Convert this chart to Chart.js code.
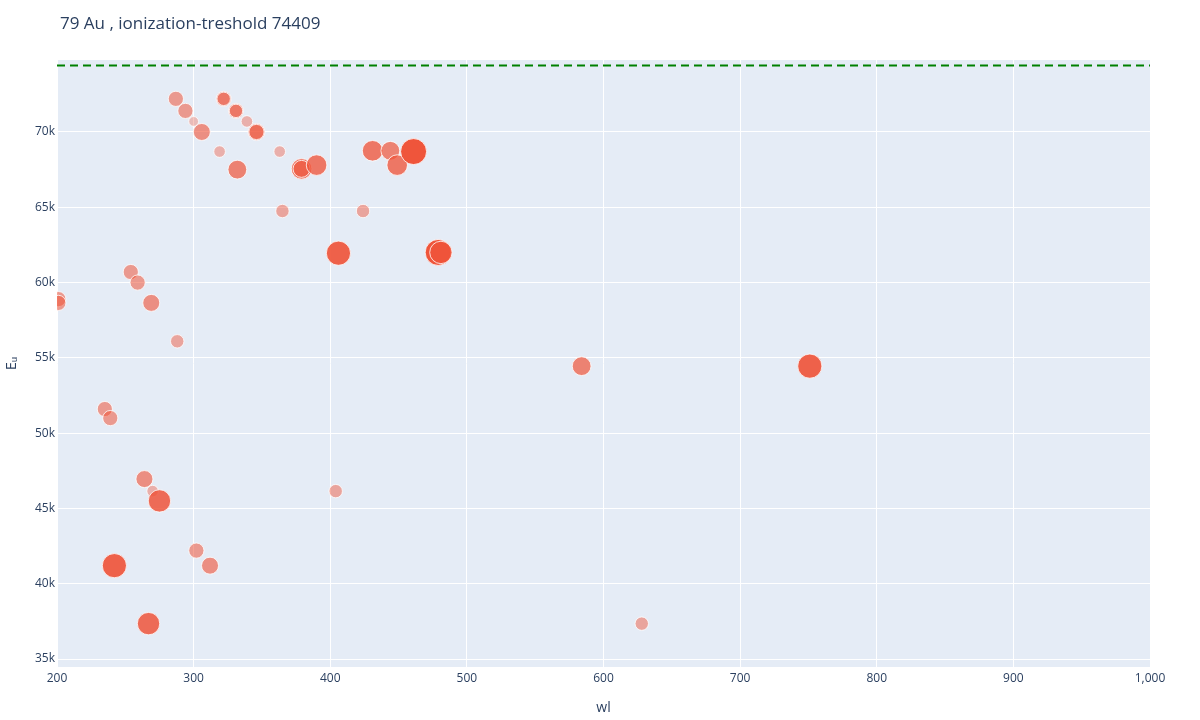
<!DOCTYPE html>
<html><head><meta charset="utf-8">
<script src="https://cdn.jsdelivr.net/npm/chart.js@4/dist/chart.umd.min.js"></script>
<style>html,body{margin:0;padding:0;background:#fff}#w{width:1200px;height:720px}</style>
</head><body><div id="w"><canvas id="c"></canvas></div>
<script>
const titleText = "79 Au , ionization-treshold 74409";
const threshold = 74409;
const wl = [287,294,300,306,319,322,322,331,331,339,346,346,332,363,365,379,379,390,431,444,449,461,424,406,479,481,254,259,269,201,201,288,235,239,264,270,275,242,302,312,267,404,584,751,628];
const Eu = [72200,71400,70700,70000,68700,72200,72200,71400,71400,70700,70000,70000,67500,68700,64750,67550,67550,67800,68750,68750,67800,68700,64750,61950,62000,62000,60700,60000,58650,58900,58650,56100,51600,51000,46950,46150,45500,41200,42200,41200,37350,46150,54450,54450,37350];
const intensity = [4,4,1,5,2,4,3,4,3,2,5,4,6,2,3,7,5,7,7,6,7,10,3,9,10,8,4,4,5,4,4,3,4,4,5,2,8,9,4,5,8,3,6,9,3];
const xTicks = [200,300,400,500,600,700,800,900,1000];

const pts = wl.map((x,i)=>({x:x,y:Eu[i],r:4+intensity[i]*0.9}));
const titlePlugin = {id:'tt', afterDraw(ch){const c=ch.ctx;c.save();c.font='17px "Open Sans", sans-serif';c.fillStyle='#2a3f5f';c.textBaseline='middle';c.fillText(titleText,60,24);c.restore();}};
const bgPlugin = {id:'bg', beforeDraw(ch){const a=ch.chartArea,c=ch.ctx;c.save();c.fillStyle='#E5ECF6';c.fillRect(a.left,a.top,a.right-a.left,a.bottom-a.top);c.restore();}};
new Chart(document.getElementById('c'),{
 type:'bubble',
 data:{datasets:[
  {type:'line',data:[{x:200,y:threshold},{x:1000,y:threshold}],borderColor:'#008000',borderWidth:2,borderDash:[8,5],pointRadius:0,order:0},
  {data:pts,backgroundColor:(ctx)=>{const v=intensity[ctx.dataIndex];return 'rgba(239,85,59,'+(0.25+0.075*v)+')';},borderColor:'rgba(255,255,255,0.8)',borderWidth:1,order:1}
 ]},
 plugins:[bgPlugin,titlePlugin],
 options:{responsive:true,maintainAspectRatio:false,animation:false,
  layout:{padding:{top:60,right:50,left:0,bottom:0}},
  plugins:{legend:{display:false},tooltip:{enabled:false}},
  scales:{
   x:{type:'linear',min:200,max:1000,afterFit(s){s.height=53;},
     afterBuildTicks(s){s.ticks=xTicks.map(v=>({value:v}));},
     grid:{color:'#fff',lineWidth:1,drawTicks:false},border:{display:false},
     ticks:{color:'#2a3f5f',font:{size:12,family:'"Open Sans", sans-serif'},padding:4,maxRotation:0},
     title:{display:true,text:'wl',color:'#2a3f5f',font:{size:14,family:'"Open Sans", sans-serif'},padding:{top:10}}},
   y:{type:'linear',min:34470,max:74780,afterFit(s){s.width=57;},
     afterBuildTicks(s){const t=[];for(let v=35000;v<=70000;v+=5000)t.push({value:v});s.ticks=t;},
     grid:{color:'#fff',lineWidth:1,drawTicks:false},border:{display:false},
     ticks:{color:'#2a3f5f',font:{size:12,family:'"Open Sans", sans-serif'},padding:2,callback:v=>(v/1000)+'k'},
     title:{display:true,text:'Eᵤ',color:'#2a3f5f',font:{size:14,family:'"Open Sans", sans-serif'},padding:{bottom:14}}}
  }}
});
</script></body></html>
